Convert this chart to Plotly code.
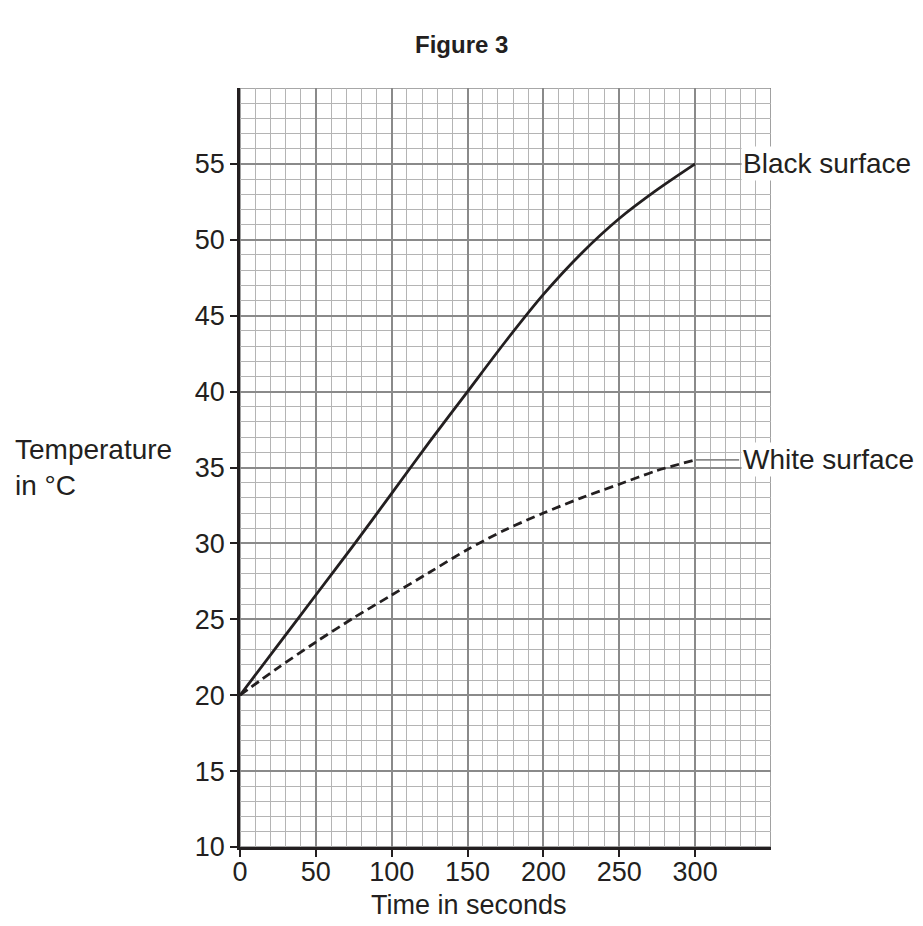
import plotly.graph_objects as go

time_s = [0, 25, 50, 75, 100, 125, 150, 175, 200, 225, 250, 275, 300]
black_surface = [20.0, 23.3, 26.6, 29.9, 33.3, 36.7, 40.0, 43.3, 46.4, 49.1, 51.4, 53.3, 55.0]
white_surface = [20.0, 21.8, 23.5, 25.1, 26.6, 28.1, 29.6, 30.9, 32.0, 33.0, 33.9, 34.8, 35.5]
x_ticks = [0, 50, 100, 150, 200, 250, 300]
y_ticks = [10, 15, 20, 25, 30, 35, 40, 45, 50, 55]
labels = ["Black surface", "White surface"]

FONT = "Liberation Sans, Arial, sans-serif"
INK = "#231f20"
MAJOR = "#8a8a8a"
MINOR = "#b4b4b4"

fig = go.Figure()
fig.add_trace(go.Scatter(x=time_s, y=black_surface, mode="lines", line_shape="spline",
                         line=dict(color=INK, width=2.8, smoothing=0.8), name=labels[0], cliponaxis=False))
fig.add_trace(go.Scatter(x=time_s, y=white_surface, mode="lines", line_shape="spline",
                         line=dict(color=INK, width=2.8, dash="9px,5px", smoothing=0.8),
                         name=labels[1], cliponaxis=False))

# outer border of grid (right and top edges)
fig.add_shape(type="rect", xref="x", yref="y", x0=0, x1=350, y0=10, y1=60,
              line=dict(color=MAJOR, width=1.6), layer="below")

# leader lines and labels
for lab, yv in zip(labels, [black_surface[-1], white_surface[-1]]):
    fig.add_shape(type="line", xref="x", yref="y", x0=time_s[-1], x1=329, y0=yv, y1=yv,
                  line=dict(color=MAJOR, width=1.6))
    fig.add_annotation(x=330, y=yv, xref="x", yref="y", text=lab, showarrow=False,
                       xanchor="left", yanchor="middle", bgcolor="white", borderpad=1,
                       font=dict(family=FONT, size=28, color=INK))

fig.add_annotation(x=0.418, y=1.057, xref="paper", yref="paper", text="<b>Figure 3</b>",
                   showarrow=False, xanchor="center", yanchor="middle",
                   font=dict(family=FONT, size=24, color=INK))
fig.add_annotation(x=-0.4275, xref="paper", y=35.0, yref="y", text="Temperature<br>in °C",
                   showarrow=False, font=dict(family=FONT, size=28, color=INK),
                   xanchor="left", align="left", yanchor="middle")
fig.add_annotation(x=0.431, xref="paper", y=-0.0764, yref="paper", text="Time in seconds",
                   showarrow=False, font=dict(family=FONT, size=27, color=INK),
                   xanchor="center", yanchor="middle")

fig.update_layout(
    width=923, height=926,
    margin=dict(l=240, r=152, t=88, b=79),
    paper_bgcolor="white", plot_bgcolor="white",
    showlegend=False,
    font=dict(family=FONT, size=27, color=INK),
    xaxis=dict(range=[0, 350], tickvals=x_ticks, showgrid=True, gridcolor=MAJOR, gridwidth=1.6,
               minor=dict(dtick=10, tick0=0, showgrid=True, gridcolor=MINOR, gridwidth=1.3),
               ticks="outside", ticklen=7, tickcolor=INK, tickwidth=1.5,
               showline=True, linecolor=INK, linewidth=2.5, zeroline=False,
               ticklabelstandoff=-8,
               tickfont=dict(family=FONT, size=27, color=INK), automargin=False),
    yaxis=dict(range=[10, 60], tickvals=y_ticks, showgrid=True, gridcolor=MAJOR, gridwidth=1.6,
               minor=dict(dtick=1, tick0=10, showgrid=True, gridcolor=MINOR, gridwidth=1.3),
               ticks="outside", ticklen=7, tickcolor=INK, tickwidth=1.5,
               showline=True, linecolor=INK, linewidth=2.5, zeroline=False,
               tickfont=dict(family=FONT, size=27, color=INK), automargin=False),
)

fig.write_html("out.html", config={"displayModeBar": False},
               post_script="document.body.style.margin='0';")
